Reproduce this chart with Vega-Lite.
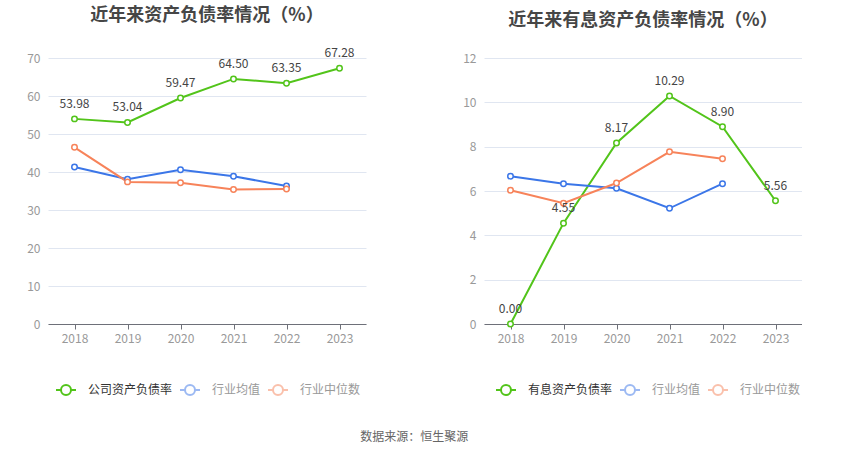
{
  "$schema": "https://vega.github.io/schema/vega-lite/v6.json",
  "background": "white",
  "padding": {"left": 26, "top": 7, "right": 0, "bottom": 0},
  "config": {
    "font": "Noto Sans CJK SC",
    "view": {"stroke": null},
    "axisX": {
      "title": null, "labelAngle": 0, "labelColor": "#999999", "labelFontSize": 12,
      "labelPadding": 4, "domainColor": "#6e7079", "tickColor": "#6e7079", "tickSize": 5, "grid": false
    },
    "axisY": {
      "title": null, "labelColor": "#999999", "labelFontSize": 12, "labelPadding": 8,
      "domain": false, "ticks": false, "gridColor": "#e0e6f1"
    },
    "title": {"fontSize": 18, "fontWeight": "bold", "color": "#464646", "offset": 22, "anchor": "middle"},
    "legend": {
      "orient": "none", "direction": "horizontal", "title": null,
      "symbolType": "M-1,0H-0.5M0.5,0H1M-0.5,0A0.5,0.5 0 1,0 0.5,0A0.5,0.5 0 1,0 -0.5,0Z",
      "symbolSize": 400, "symbolStrokeWidth": 2, "symbolFillColor": "white",
      "labelFontSize": 12, "labelColor": "#333333", "labelOffset": 11, "columnPadding": 3,
      "legendY": 321
    }
  },
  "datasets": {
    "debt": [
      {"year": "2018", "series": "公司资产负债率", "value": 53.98},
      {"year": "2019", "series": "公司资产负债率", "value": 53.04},
      {"year": "2020", "series": "公司资产负债率", "value": 59.47},
      {"year": "2021", "series": "公司资产负债率", "value": 64.50},
      {"year": "2022", "series": "公司资产负债率", "value": 63.35},
      {"year": "2023", "series": "公司资产负债率", "value": 67.28},
      {"year": "2018", "series": "行业均值", "value": 41.3},
      {"year": "2019", "series": "行业均值", "value": 38.1},
      {"year": "2020", "series": "行业均值", "value": 40.6},
      {"year": "2021", "series": "行业均值", "value": 38.9},
      {"year": "2022", "series": "行业均值", "value": 36.3},
      {"year": "2018", "series": "行业中位数", "value": 46.5},
      {"year": "2019", "series": "行业中位数", "value": 37.4},
      {"year": "2020", "series": "行业中位数", "value": 37.2},
      {"year": "2021", "series": "行业中位数", "value": 35.4},
      {"year": "2022", "series": "行业中位数", "value": 35.5}
    ],
    "ibd": [
      {"year": "2018", "series": "有息资产负债率", "value": 0.00},
      {"year": "2019", "series": "有息资产负债率", "value": 4.55},
      {"year": "2020", "series": "有息资产负债率", "value": 8.17},
      {"year": "2021", "series": "有息资产负债率", "value": 10.29},
      {"year": "2022", "series": "有息资产负债率", "value": 8.90},
      {"year": "2023", "series": "有息资产负债率", "value": 5.56},
      {"year": "2018", "series": "行业均值", "value": 6.67},
      {"year": "2019", "series": "行业均值", "value": 6.33},
      {"year": "2020", "series": "行业均值", "value": 6.12},
      {"year": "2021", "series": "行业均值", "value": 5.22},
      {"year": "2022", "series": "行业均值", "value": 6.33},
      {"year": "2018", "series": "行业中位数", "value": 6.03},
      {"year": "2019", "series": "行业中位数", "value": 5.45},
      {"year": "2020", "series": "行业中位数", "value": 6.36},
      {"year": "2021", "series": "行业中位数", "value": 7.77},
      {"year": "2022", "series": "行业中位数", "value": 7.46}
    ]
  },
  "title": {
    "text": "数据来源：恒生聚源", "orient": "bottom", "anchor": "middle",
    "fontSize": 12, "fontWeight": "normal", "color": "#666666", "offset": 33
  },
  "spacing": 96,
  "resolve": {"scale": {"color": "independent", "y": "independent"}, "legend": {"color": "independent"}},
  "hconcat": [
    {
      "title": "近年来资产负债率情况（%）",
      "width": 318,
      "height": 266,
      "data": {"name": "debt"},
      "encoding": {
        "x": {"field": "year", "type": "ordinal", "scale": {"type": "point", "padding": 0.5}},
        "y": {"field": "value", "type": "quantitative", "scale": {"domain": [0, 70]}, "axis": {"values": [0, 10, 20, 30, 40, 50, 60, 70]}}
      },
      "layer": [
        {
          "mark": {"type": "line", "strokeWidth": 2, "point": {"filled": false, "fill": "white", "size": 30, "strokeWidth": 1.5}},
          "encoding": {
            "color": {
              "field": "series", "type": "nominal",
              "scale": {"domain": ["公司资产负债率", "行业均值", "行业中位数"], "range": ["#52c41a", "#3b76e8", "#f7835a"]},
              "legend": {
                "legendX": 7,
                "encode": {
                  "symbols": {"update": {"opacity": {"signal": "datum.index === 0 ? 1 : 0.5"}}},
                  "labels": {"update": {"fill": {"signal": "datum.index === 0 ? '#333333' : '#999999'"}}}
                }
              }
            }
          }
        },
        {
          "transform": [{"filter": "datum.series == '公司资产负债率'"}],
          "mark": {"type": "text", "dy": -15, "fontSize": 12, "color": "#444444"},
          "encoding": {"text": {"field": "value", "type": "quantitative", "format": ".2f"}}
        }
      ]
    },
    {
      "title": "近年来有息资产负债率情况（%）",
      "width": 318,
      "height": 266,
      "data": {"name": "ibd"},
      "encoding": {
        "x": {"field": "year", "type": "ordinal", "scale": {"type": "point", "padding": 0.5}},
        "y": {"field": "value", "type": "quantitative", "scale": {"domain": [0, 12]}, "axis": {"values": [0, 2, 4, 6, 8, 10, 12]}}
      },
      "layer": [
        {
          "mark": {"type": "line", "strokeWidth": 2, "point": {"filled": false, "fill": "white", "size": 30, "strokeWidth": 1.5}},
          "encoding": {
            "color": {
              "field": "series", "type": "nominal",
              "scale": {"domain": ["有息资产负债率", "行业均值", "行业中位数"], "range": ["#52c41a", "#3b76e8", "#f7835a"]},
              "legend": {
                "legendX": 11,
                "encode": {
                  "symbols": {"update": {"opacity": {"signal": "datum.index === 0 ? 1 : 0.5"}}},
                  "labels": {"update": {"fill": {"signal": "datum.index === 0 ? '#333333' : '#999999'"}}}
                }
              }
            }
          }
        },
        {
          "transform": [{"filter": "datum.series == '有息资产负债率'"}],
          "mark": {"type": "text", "dy": -15, "fontSize": 12, "color": "#444444"},
          "encoding": {"text": {"field": "value", "type": "quantitative", "format": ".2f"}}
        }
      ]
    }
  ]
}
